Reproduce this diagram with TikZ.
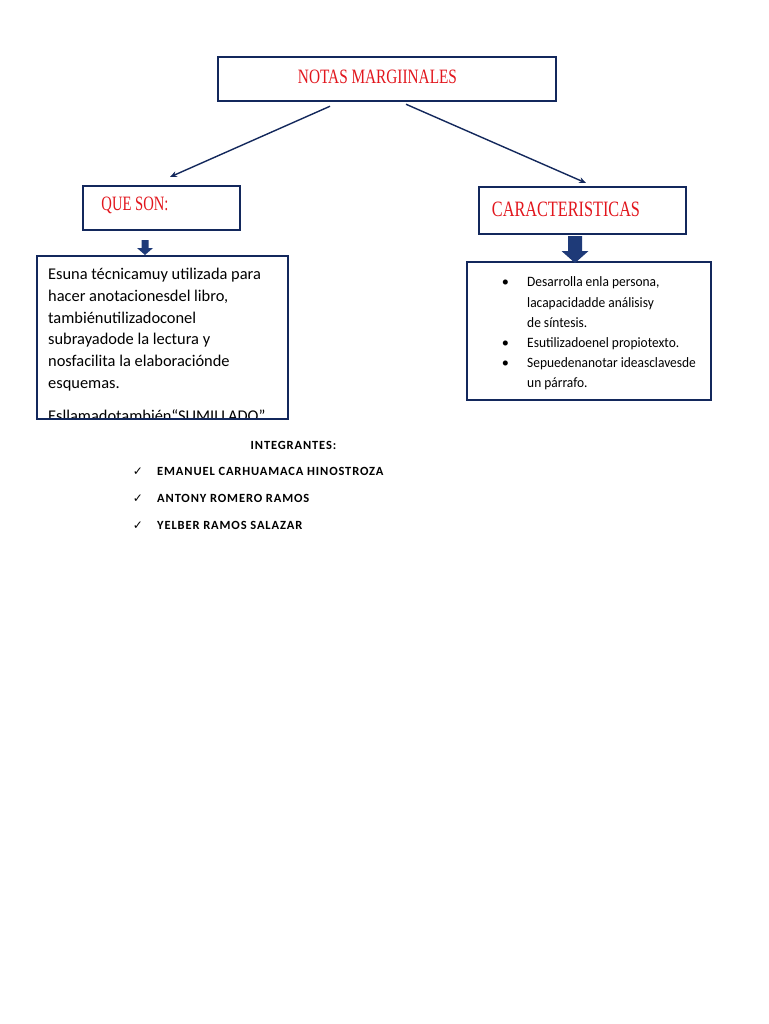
\documentclass[tikz,border=0pt]{standalone}
\usepackage{fontspec}
\setmainfont{Carlito}
\newfontfamily\titlefont{Liberation Serif}
\newfontfamily\symfont{DejaVu Sans}
\newfontfamily\namefont[LetterSpace=7]{Carlito}
\usetikzlibrary{arrows.meta}
\definecolor{framenavy}{HTML}{13285C}
\definecolor{arrownavy}{HTML}{1E3A78}
\definecolor{titlered}{HTML}{E2161D}
\tikzset{
  frame/.style={draw=framenavy, line width=2.5pt, fill=white, inner sep=0pt},
  redtitle/.style={text=titlered, inner sep=0pt, font=\titlefont},
  bodytext/.style={inner sep=0pt, anchor=north west},
  link/.style={draw=framenavy, line width=1.4pt, -{Stealth[length=7pt,width=6pt]}},
  blockarrow/.style={fill=arrownavy},
  member/.style={font=\namefont\bfseries\fontsize{12.5}{12.5}\selectfont, inner sep=0pt, anchor=base west},
  tick/.style={font=\symfont\fontsize{12}{12}\selectfont, inner sep=0pt},
}
% block arrow pointing down: x, top, shaft half, head half, head y, tip y
\newcommand{\blockdown}[6]{%
  \fill[blockarrow] (#1-#3,#2) -- (#1+#3,#2) -- (#1+#3,#5) -- (#1+#4,#5)
    -- (#1,#6) -- (#1-#4,#5) -- (#1-#3,#5) -- cycle;}

\begin{document}
\begin{tikzpicture}[x=1pt,y=-1pt]
  \useasboundingbox[fill=white] (0,0) rectangle (768,1024);

  % headings
  \node[frame, minimum width=338pt, minimum height=44pt] (title) at (387,79) {};
  \node[redtitle] (title-txt) at (377.5,76.5) {\resizebox{159pt}{13.5pt}{NOTAS MARGIINALES}};
  \node[frame, minimum width=157pt, minimum height=44pt] (queson) at (161.5,208) {};
  \node[redtitle] (queson-txt) at (135,205) {\resizebox{67pt}{13.5pt}{QUE SON:}};
  \node[frame, minimum width=207pt, minimum height=47pt] (carac) at (582.5,210.5) {};
  \node[redtitle] (carac-txt) at (566,209) {\resizebox{148pt}{14.5pt}{CARACTERISTICAS}};

  % links from the title
  \coordinate (queson-tip) at (170,177);
  \coordinate (carac-tip) at (586,183);
  \draw[link] ([xshift=-57pt,yshift=-4pt]title.south) -- (queson-tip);
  \draw[link] ([xshift=19pt,yshift=-2pt]title.south) -- (carac-tip);

  % definition box
  \node[frame, minimum width=251pt, minimum height=163pt] (defbox) at (162.5,337.5) {};
  \begin{scope}
    \clip (38.3,257.3) rectangle (286.7,417.7);
    \node[bodytext] (def-txt) at (48,264) {\fontsize{16.4}{21.8}\selectfont
      \begin{tabular}{@{}l@{}}
        Esuna técnicamuy utilizada para\\
        hacer anotacionesdel libro,\\
        tambiénutilizadoconel\\
        subrayadode la lectura y\\
        nosfacilita la elaboraciónde\\
        esquemas.\\[11pt]
        Esllamadotambién“SUMILLADO”
      \end{tabular}};
  \end{scope}

  % features box
  \node[frame, minimum width=244pt, minimum height=138pt] (featbox) at (589,331) {};
  \node[bodytext] (feat-txt) at (501.6,272.6) {\fontsize{14.3}{20.2}\selectfont
    \begin{tabular}{@{}p{25.4pt}@{}l@{}}
      • & \scalebox{0.94}[1]{Desarrolla enla persona,}\\
        & \scalebox{0.94}[1]{lacapacidadde análisisy}\\
        & \scalebox{0.94}[1]{de síntesis.}\\
      • & \scalebox{0.94}[1]{Esutilizadoenel propiotexto.}\\
      • & \scalebox{0.94}[1]{Sepuedenanotar ideasclavesde}\\
        & \scalebox{0.94}[1]{un párrafo.}
    \end{tabular}};

  % block arrows
  \blockdown{145}{240}{3.5}{8}{248}{255}
  \blockdown{575}{236}{7}{13.5}{251}{263}

  % members
  \node[member, anchor=base] (integ) at (293.5,449.3) {INTEGRANTES:};
  \foreach \name/\y [count=\i] in {EMANUEL CARHUAMACA HINOSTROZA/475.7,
      ANTONY ROMERO RAMOS/502.7, YELBER RAMOS SALAZAR/529.3} {
    \node[tick] (tick\i) at (138,\y-4) {✓};
    \node[member] (member\i) at (157,\y) {\name};
  }
\end{tikzpicture}
\end{document}
